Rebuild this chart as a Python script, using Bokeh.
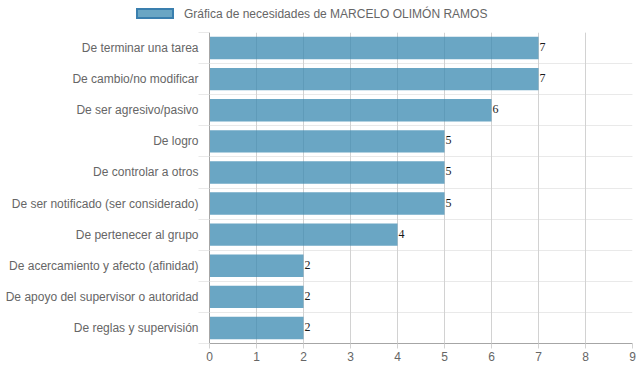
from bokeh.plotting import figure
from bokeh.layouts import column
from bokeh.models import (Range1d, FixedTicker, LinearAxis, ColumnDataSource, Grid, Div)
from bokeh.core.properties import value
from bokeh.embed import file_html
from bokeh.resources import INLINE

categories = [
    "De terminar una tarea",
    "De cambio/no modificar",
    "De ser agresivo/pasivo",
    "De logro",
    "De controlar a otros",
    "De ser notificado (ser considerado)",
    "De pertenecer al grupo",
    "De acercamiento y afecto (afinidad)",
    "De apoyo del supervisor o autoridad",
    "De reglas y supervisión",
]
values = [7, 7, 6, 5, 5, 5, 4, 2, 2, 2]
x_ticks = [0, 1, 2, 3, 4, 5, 6, 7, 8, 9]
series_label = "Gráfica de necesidades de MARCELO OLIMÓN RAMOS"

n = len(categories)
pos = [i + 0.5 for i in range(n)]
boundaries = list(range(n + 1))

FONT = "Liberation Sans"
TXT = "#666666"
GRID_V = "#d2d2d2"
GRID_H = "#e9e9e9"
AXIS = "#a6a6a6"
BAR_FILL = (56, 136, 176)
BAR_ALPHA = 0.75
LEG_BORDER = "#3a7fae"

# ---- legend strip (top) ----
legend_html = (
    f'<div style="position:relative;width:639px;height:32px;font-family:\'{FONT}\';'
    f'font-size:12px;color:{TXT};">'
    f'<span style="position:absolute;left:136px;top:8px;width:38px;height:11px;'
    f'border:2px solid {LEG_BORDER};background:rgba({BAR_FILL[0]},{BAR_FILL[1]},{BAR_FILL[2]},{BAR_ALPHA});"></span>'
    f'<span style="position:absolute;left:184px;top:7px;line-height:15px;white-space:nowrap;">'
    f'{series_label}</span></div>'
)
legend_div = Div(text=legend_html, width=639, height=32, margin=(0, 0, 0, 0))

# ---- main chart ----
p = figure(width=639, height=340,
           x_range=Range1d(0, x_ticks[-1]), y_range=Range1d(n, 0),
           output_backend="svg", toolbar_location=None,
           x_axis_location=None, y_axis_location=None,
           min_border_left=209, min_border_right=7, min_border_top=0, min_border_bottom=29)
p.outline_line_color = None
p.background_fill_color = "white"

xaxis = LinearAxis(ticker=FixedTicker(ticks=x_ticks, minor_ticks=[]),
                   major_tick_out=5, major_tick_in=0, minor_tick_out=0, minor_tick_in=0,
                   major_tick_line_color=GRID_V, axis_line_color=AXIS,
                   major_label_standoff=3,
                   major_label_text_font=FONT, major_label_text_font_size="12px",
                   major_label_text_color=TXT)
p.add_layout(xaxis, "below")

yaxis = LinearAxis(ticker=FixedTicker(ticks=pos, minor_ticks=boundaries),
                   major_label_overrides={pos[i]: categories[i] for i in range(n)},
                   major_tick_out=0, major_tick_in=0,
                   minor_tick_out=11, minor_tick_in=0, minor_tick_line_color=GRID_H,
                   axis_line_color=AXIS, major_label_standoff=0,
                   major_label_text_font=FONT, major_label_text_font_size="12px",
                   major_label_text_color=TXT)
p.add_layout(yaxis, "left")

p.add_layout(Grid(dimension=1, ticker=FixedTicker(ticks=boundaries), grid_line_color=GRID_H))
p.add_layout(Grid(dimension=0, ticker=FixedTicker(ticks=x_ticks[1:]), grid_line_color=GRID_V))

src = ColumnDataSource(dict(y=pos, v=values, lbl=[str(v) for v in values]))

p.hbar(y="y", right="v", left=0, height=0.72, source=src,
       fill_color=BAR_FILL, fill_alpha=BAR_ALPHA, line_color=None)

p.text(x="v", y="y", text="lbl", source=src, x_offset=1, y_offset=-1,
       text_align="left", text_baseline="alphabetic",
       text_font=value("Liberation Serif"), text_font_size="12px", text_color="#1a1a1a")

layout = column(legend_div, p, spacing=0)

open("out.html", "w").write(file_html(layout, INLINE))
